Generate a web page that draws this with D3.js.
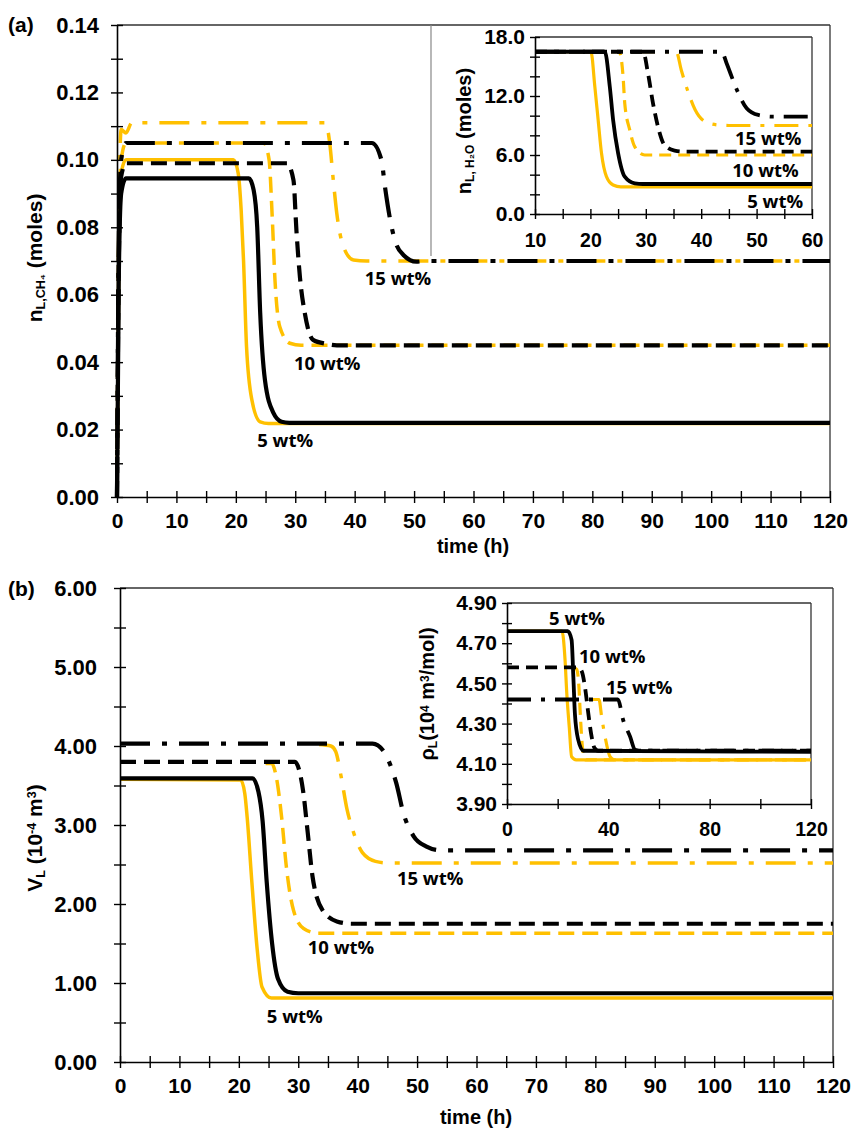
<!DOCTYPE html>
<html><head><meta charset="utf-8">
<script src="https://cdn.jsdelivr.net/npm/d3@7"></script>
<style>
body{margin:0;background:#fff;}
svg text{font-family:"Liberation Sans",Arial,sans-serif;font-weight:bold;fill:#000;}
.wt{font-family:"Open Sans",sans-serif;font-weight:bold;}
</style></head><body>
<svg id="c" width="859" height="1130"></svg>
<script>
// ---------- DATA ----------
// Panel (a) main: n_L,CH4 (moles) vs time (h)
const ch4Yellow5  = [[0,0],[0.3,0.07],[0.7,0.096],[1.5,0.1],[19.6,0.1],[20.4,0.096],[20.9,0.085],[21.3,0.070],[21.8,0.0446],[22.7,0.0288],[24.1,0.0223],[25.5,0.0218],[120,0.0218]];
const ch4Black5   = [[0,0],[0.3,0.065],[0.7,0.09],[1.5,0.0945],[22.2,0.0945],[23.0,0.091],[23.6,0.080],[24.1,0.0546],[24.9,0.0347],[26.3,0.025],[27.7,0.0223],[29,0.022],[120,0.022]];
const ch4Yellow10 = [[0,0],[0.3,0.075],[0.7,0.1],[1.5,0.105],[24.7,0.105],[25.6,0.1],[26.1,0.084],[26.6,0.064],[27.4,0.0505],[29.1,0.0456],[31,0.045],[120,0.045]];
const ch4Black10  = [[0,0],[0.3,0.07],[0.7,0.095],[1.5,0.099],[28.6,0.099],[29.7,0.094],[30.2,0.079],[30.8,0.065],[31.6,0.0546],[33,0.0466],[35.3,0.0454],[37,0.045],[120,0.045]];
const ch4Yellow15 = [[0,0],[0.3,0.08],[0.7,0.109],[1.5,0.108],[2.5,0.111],[35.1,0.111],[35.8,0.105],[36.4,0.094],[37,0.084],[38.1,0.0743],[39.8,0.0703],[42,0.070],[120,0.070]];
const ch4Black15  = [[0,0],[0.3,0.075],[0.7,0.1],[1.5,0.105],[42.9,0.105],[44.5,0.1],[45.1,0.092],[46,0.082],[46.8,0.076],[48.2,0.0718],[50.4,0.0698],[52,0.070],[120,0.070]];

// Panel (a) inset: n_L,H2O (moles)
const h2oYellow5  = [[10,16.5],[20.1,16.5],[20.8,12.95],[21.4,9.56],[22,6.2],[22.9,3.8],[24.1,2.95],[25.5,2.75],[60,2.75]];
const h2oBlack5   = [[10,16.5],[22.6,16.5],[23.5,12.95],[24.1,9.56],[25,6.2],[26.2,3.8],[28,3.12],[29.5,3.05],[60,3.05]];
const h2oYellow10 = [[10,16.5],[25.2,16.5],[25.9,13.97],[26.2,11.26],[27.1,8.55],[28,6.85],[29.8,6.0],[60,6.0]];
const h2oBlack10  = [[10,16.5],[29.5,16.5],[30.4,14.3],[31.3,11.26],[32.2,8.88],[33.4,7.0],[35.2,6.45],[37,6.35],[60,6.35]];
const h2oYellow15 = [[10,16.5],[35.5,16.5],[36.4,14.65],[37.7,12.3],[38.9,10.6],[40.7,9.4],[43.1,9.05],[45,9.0],[60,9.0]];
const h2oBlack15  = [[10,16.5],[43.7,16.5],[44.6,15.3],[45.5,13.97],[46.7,12.3],[48.2,10.75],[50.3,10.07],[53,9.9],[60,9.9]];

// Panel (b) main: V_L (10^-4 m3)
const vYellow5  = [[0,3.58],[20.3,3.57],[21.0,3.40],[21.4,3.10],[22.2,2.27],[23.1,1.42],[23.9,0.95],[25.5,0.81],[120,0.81]];
const vBlack5   = [[0,3.59],[22.3,3.59],[23.3,3.42],[24.0,3.05],[24.7,2.27],[25.6,1.5],[26.6,1.05],[28.2,0.89],[30,0.87],[120,0.87]];
const vYellow10 = [[24.5,3.78],[25.5,3.78],[26.3,3.61],[27.2,3.10],[28,2.47],[29.2,1.92],[30.9,1.69],[33.3,1.63],[120,1.63]];
const vBlack10  = [[0,3.80],[29.4,3.80],[30.8,3.44],[31.6,2.90],[32.4,2.35],[34.1,1.92],[36.5,1.78],[39,1.75],[120,1.75]];
const vYellow15 = [[33.5,4.02],[35.5,4.0],[36.3,3.93],[37.2,3.62],[38.2,3.2],[39.2,2.93],[40.8,2.65],[43,2.54],[45,2.52],[120,2.52]];
const vBlack15  = [[0,4.03],[42.5,4.03],[44.5,3.92],[45.5,3.76],[46.5,3.53],[47.7,3.15],[49.4,2.86],[51.5,2.73],[54,2.68],[120,2.68]];

// Panel (b) inset: rho_L (10^4 m3/mol)
const rhoYellow5  = [[0,4.76],[21.7,4.76],[22.9,4.62],[23.6,4.45],[24.6,4.28],[25.5,4.135],[27.3,4.12],[120,4.12]];
const rhoBlack5   = [[0,4.76],[24,4.76],[25.5,4.716],[26.2,4.53],[26.8,4.35],[28.1,4.22],[30.1,4.165],[120,4.16]];
const rhoYellow10 = [[26,4.58],[27.5,4.57],[28.3,4.5],[29,4.33],[29.8,4.18],[31,4.12],[120,4.12]];
const rhoBlack10  = [[0,4.58],[28,4.58],[29.5,4.56],[30.8,4.48],[32,4.36],[33.2,4.25],[34.5,4.18],[36,4.165],[120,4.165]];
const rhoYellow15 = [[33,4.42],[36.3,4.42],[37.4,4.33],[38.7,4.235],[40.7,4.135],[42.5,4.12],[120,4.12]];
const rhoBlack15  = [[0,4.42],[43.8,4.42],[45.8,4.32],[48.6,4.235],[50.5,4.17],[52,4.165],[120,4.165]];

// annotation labels [text, t, value]
const ch4Labels = [["15 wt%",41.7,0.0629],["10 wt%",29.8,0.0377],["5 wt%",23.6,0.0148]];
const h2oLabels = [["15 wt%",46.1,7.0],["10 wt%",45.6,3.76],["5 wt%",48.3,0.6]];
const vLabels   = [["15 wt%",46.6,2.24],["10 wt%",31.6,1.37],["5 wt%",24.7,0.49]];
const rhoLabels = [["5 wt%",16.6,4.79],["10 wt%",28.4,4.60],["15 wt%",39.1,4.447]];

// tick values
const ch4YTicks = d3.range(0, 0.1401, 0.01);
const mainXTicks = d3.range(0, 121, 5);
const h2oYTicks = d3.range(0, 18.01, 2);
const h2oXTicks = d3.range(10, 61, 5);
const vYTicks = d3.range(0, 6.01, 0.5);
const rhoYTicks = d3.range(3.9, 4.91, 0.1);
const rhoXTicks = d3.range(0, 121, 20);

// ---------- STYLE ----------
const YEL = "#FFC000", BLK = "#000";
const DASH = {solid: null, dashed: "16,8", dashdot: "30,12,5,12"};
const DASH_IN = {solid: null, dashed: "12,7", dashdot: "24,10,4,10"};

const svg = d3.select("#c");

function drawPanel(cfg){
  const x = d3.scaleLinear().domain(cfg.xDomain).range([cfg.left, cfg.right]);
  const y = d3.scaleLinear().domain(cfg.yDomain).range([cfg.bottom, cfg.top]);
  const g = svg.append("g");
  g.append("line").attr("x1",cfg.left).attr("x2",cfg.right).attr("y1",cfg.top).attr("y2",cfg.top).attr("stroke",cfg.frame).attr("stroke-width",1.3);
  g.append("line").attr("x1",cfg.right).attr("x2",cfg.right).attr("y1",cfg.top).attr("y2",cfg.bottom).attr("stroke",cfg.frame).attr("stroke-width",1.3);

  const line = d3.line().x(d=>x(d[0])).y(d=>y(d[1])).curve(d3.curveMonotoneX);
  cfg.series.forEach(s=>{
    g.append("path").attr("d", line(s.data)).attr("fill","none")
      .attr("stroke", s.color).attr("stroke-width", s.w)
      .attr("stroke-dasharray", s.dash).attr("stroke-linejoin","round");
  });

  const yAxis = d3.axisLeft(y).tickValues(cfg.yTicks).tickSize(cfg.tick).tickSizeOuter(0)
    .tickPadding(cfg.yPad).tickFormat(d=>cfg.yShow(d)?d3.format(cfg.yFmt)(d):"");
  const gy = g.append("g").attr("transform",`translate(${cfg.left},0)`).call(yAxis);
  const xAxis = d3.axisBottom(x).tickValues(cfg.xTicks).tickSize(cfg.tick).tickSizeOuter(0)
    .tickPadding(cfg.xPad).tickFormat(d=>cfg.xShow(d)?d3.format("d")(d):"");
  const gx = g.append("g").attr("transform",`translate(0,${cfg.bottom})`).call(xAxis);
  [gy,gx].forEach(a=>{
    a.select(".domain").attr("stroke","#000").attr("stroke-width",1.6);
    a.selectAll(".tick line").attr("stroke","#000").attr("stroke-width",1.4);
    a.selectAll("text").attr("fill","#000")
      .attr("font-family",'"Liberation Sans",Arial,sans-serif').attr("font-weight","bold");
  });
  gy.selectAll("text").attr("font-size",cfg.yFont);
  gx.selectAll("text").attr("font-size",cfg.xFont);
  gy.selectAll(".tick line").attr("x1", cfg.tick);
  gx.selectAll(".tick line").attr("y1", -cfg.tick);

  cfg.labels.forEach(l=>{
    g.append("text").attr("class","wt").attr("x",x(l[1])).attr("y",y(l[2]))
      .attr("font-size",cfg.wtFont).text(l[0]);
  });
  return {x,y,g};
}

function S(data,color,kind,inset){
  return {data, color, dash:(inset?DASH_IN:DASH)[kind], w: color===BLK ? (inset?3.8:4.2) : (inset?3.2:3.5)};
}

// ----- Panel (a) main -----
drawPanel({
  left:117,right:830,top:25,bottom:497,xDomain:[0,120],yDomain:[0,0.14],
  frame:"#333",tick:6,yPad:12,xPad:10,yFont:22,xFont:21,wtFont:18.5,
  yTicks:ch4YTicks, yShow:d=>Math.round(d*100)%2===0, yFmt:".2f",
  xTicks:mainXTicks, xShow:d=>d%10===0,
  series:[S(ch4Yellow5,YEL,"solid"),S(ch4Yellow10,YEL,"dashed"),S(ch4Yellow15,YEL,"dashdot"),
          S(ch4Black5,BLK,"solid"),S(ch4Black10,BLK,"dashed"),S(ch4Black15,BLK,"dashdot")],
  labels:ch4Labels
});

// inset (a) border
svg.append("line").attr("x1",431).attr("x2",431).attr("y1",25).attr("y2",256).attr("stroke","#888").attr("stroke-width",1.2);

drawPanel({
  left:535,right:812,top:37,bottom:214,xDomain:[10,60],yDomain:[0,18],
  frame:"#333",tick:5,yPad:5,xPad:14,yFont:21,xFont:19.5,wtFont:18.5,
  yTicks:h2oYTicks, yShow:d=>Math.round(d)%6===0, yFmt:".1f",
  xTicks:h2oXTicks, xShow:d=>d%10===0,
  series:[S(h2oYellow5,YEL,"solid",1),S(h2oYellow10,YEL,"dashed",1),S(h2oYellow15,YEL,"dashdot",1),
          S(h2oBlack5,BLK,"solid",1),S(h2oBlack10,BLK,"dashed",1),S(h2oBlack15,BLK,"dashdot",1)],
  labels:h2oLabels
});

// ----- Panel (b) main -----
drawPanel({
  left:120,right:833,top:588,bottom:1062,xDomain:[0,120],yDomain:[0,6],
  frame:"#333",tick:6,yPad:17,xPad:10,yFont:22,xFont:21,wtFont:18.5,
  yTicks:vYTicks, yShow:d=>Math.abs(d-Math.round(d))<1e-6, yFmt:".2f",
  xTicks:mainXTicks, xShow:d=>d%10===0,
  series:[S(vYellow5,YEL,"solid"),S(vYellow10,YEL,"dashed"),S(vYellow15,YEL,"dashdot"),
          S(vBlack5,BLK,"solid"),S(vBlack10,BLK,"dashed"),S(vBlack15,BLK,"dashdot")],
  labels:vLabels
});

drawPanel({
  left:507,right:811,top:603,bottom:804,xDomain:[0,120],yDomain:[3.9,4.9],
  frame:"#333",tick:5,yPad:5,xPad:13,yFont:21,xFont:19.5,wtFont:18.5,
  yTicks:rhoYTicks, yShow:d=>Math.round((d-3.9)*10)%2===0, yFmt:".2f",
  xTicks:rhoXTicks, xShow:d=>d%40===0,
  series:[S(rhoYellow5,YEL,"solid",1),S(rhoYellow10,YEL,"dashed",1),S(rhoYellow15,YEL,"dashdot",1),
          S(rhoBlack5,BLK,"solid",1),S(rhoBlack10,BLK,"dashed",1),S(rhoBlack15,BLK,"dashdot",1)],
  labels:rhoLabels
});

// ----- titles / axis labels -----
svg.append("text").attr("x",8).attr("y",32).attr("font-size",21).text("(a)");
svg.append("text").attr("x",8).attr("y",596).attr("font-size",21).text("(b)");
svg.append("text").attr("x",473).attr("y",553).attr("text-anchor","middle").attr("font-size",20).text("time (h)");
svg.append("text").attr("x",476).attr("y",1124).attr("text-anchor","middle").attr("font-size",20).text("time (h)");

function rotLabel(x,y,size,parts){
  const t = svg.append("text").attr("transform",`translate(${x},${y}) rotate(-90)`)
    .attr("text-anchor","middle").attr("font-size",size);
  parts.forEach(p=>{
    const s = t.append("tspan").text(p[0]);
    if (p[1]==="sub") s.attr("font-size",size*0.6).attr("baseline-shift","-25%");
    if (p[1]==="sup") s.attr("font-size",size*0.6).attr("baseline-shift","45%");
  });
}
rotLabel(42,258,21,[["n"],["L,CH₄","sub"],[" (moles)"]]);
rotLabel(471,131,20,[["n"],["L, H₂O","sub"],[" (moles)"]]);
rotLabel(42,838,21,[["V"],["L","sub"],[" (10"],["-4","sup"],[" m"],["3","sup"],[")"]]);
rotLabel(434,694,20,[["ρ"],["L","sub"],["(10"],["4","sup"],[" m"],["3","sup"],["/mol)"]]);
</script>
</body></html>
